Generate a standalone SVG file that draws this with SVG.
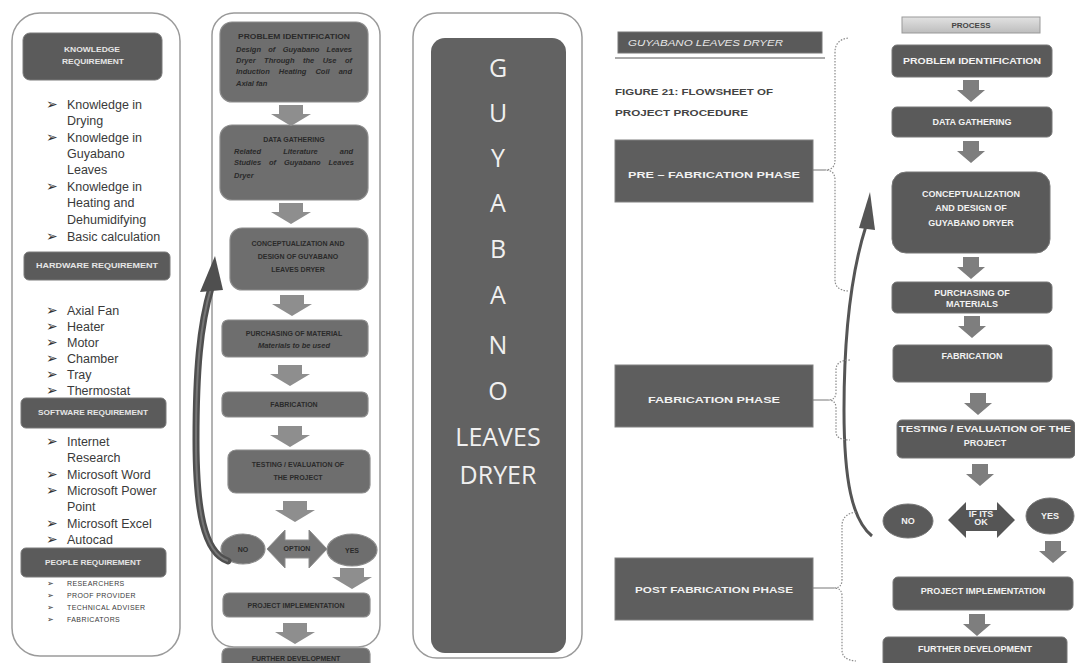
<svg xmlns="http://www.w3.org/2000/svg" width="1075" height="663" viewBox="0 0 1075 663">
<style>
.panel{fill:#fff;stroke:#9a9a9a;stroke-width:1.5}
.hdr{fill:#5b5b5b;stroke:#7a7a7a;stroke-width:1}
.mbox{fill:#6e6e6e;stroke:#8c8c8c;stroke-width:1.2}
.rbox{fill:#5a5a5a;stroke:#777;stroke-width:1}
.phase{fill:#5e5e5e;stroke:#808080;stroke-width:1}
.marr{fill:#8e8e8e}
.rarr{fill:#7e7e7e}
.hdrt{font-family:"Liberation Sans",Arial,sans-serif;font-size:7px;font-weight:bold;fill:#e6e6e6;text-anchor:middle}
.li{font-family:"Liberation Sans",Arial,sans-serif;font-size:12.5px;fill:#3a3a3a}
.bul{font-family:"DejaVu Sans",sans-serif;font-size:14px;fill:#333}
.bs{font-family:"DejaVu Sans",sans-serif;font-size:8px;fill:#333}
.sm{font-family:"Liberation Sans",Arial,sans-serif;font-size:7px;fill:#3a3a3a;letter-spacing:0.4px}
.mt{font-family:"Liberation Sans",Arial,sans-serif;font-size:7px;font-weight:bold;fill:#2a2a2a;text-anchor:middle}
.mi{font-family:"Liberation Sans",Arial,sans-serif;font-size:7.5px;font-style:italic;font-weight:bold;fill:#2a2a2a}
.big{font-family:"Open Sans","Noto Sans",sans-serif;font-size:25px;fill:#f0f0f0;text-anchor:middle}
.rt{font-family:"Liberation Sans",Arial,sans-serif;font-size:9px;font-weight:bold;fill:#f2f2f2;text-anchor:middle}
.cap{font-family:"Liberation Sans",Arial,sans-serif;font-size:8.5px;font-weight:bold;fill:#444}
.brk{fill:none;stroke:#8a8a8a;stroke-width:1.2;stroke-dasharray:1.5,1.5}
.lnk{fill:none;stroke:#777;stroke-width:1}
</style>
<defs>
<path id="da" d="M-12,0 H12 V9 H20 L0,21 L-20,9 H-12 Z"/>
<path id="ra" d="M-8,0 H8 V10 H14 L0,22 L-14,10 H-8 Z"/>
<linearGradient id="pg" x1="0" y1="0" x2="0" y2="1"><stop offset="0" stop-color="#e2e2e2"/><stop offset="1" stop-color="#bdbdbd"/></linearGradient>
</defs>

<!-- LEFT PANEL -->
<g id="left-panel">
<rect class="panel" x="12" y="13" width="168" height="643" rx="28"/>
</g>
<g id="knowledge-req">
<rect class="hdr" x="23" y="33" width="139" height="47" rx="7"/>
<text class="hdrt" x="92" y="52" textLength="56" lengthAdjust="spacingAndGlyphs">KNOWLEDGE</text>
<text class="hdrt" x="93" y="64" textLength="62" lengthAdjust="spacingAndGlyphs">REQUIREMENT</text>
<text class="bul" x="46" y="109">➢</text><text class="li" x="67" y="109">Knowledge in</text>
<text class="li" x="67" y="125">Drying</text>
<text class="bul" x="46" y="142">➢</text><text class="li" x="67" y="142">Knowledge in</text>
<text class="li" x="67" y="158">Guyabano</text>
<text class="li" x="67" y="174">Leaves</text>
<text class="bul" x="46" y="191">➢</text><text class="li" x="67" y="191">Knowledge in</text>
<text class="li" x="67" y="207">Heating and</text>
<text class="li" x="67" y="224">Dehumidifying</text>
<text class="bul" x="46" y="241">➢</text><text class="li" x="67" y="241">Basic calculation</text>
</g>
<g id="hardware-req">
<rect class="hdr" x="24" y="252" width="146" height="28" rx="5"/>
<text class="hdrt" x="97" y="268" textLength="122" lengthAdjust="spacingAndGlyphs">HARDWARE REQUIREMENT</text>
<text class="bul" x="46" y="315">➢</text><text class="li" x="67" y="315">Axial Fan</text>
<text class="bul" x="46" y="331">➢</text><text class="li" x="67" y="331">Heater</text>
<text class="bul" x="46" y="347">➢</text><text class="li" x="67" y="347">Motor</text>
<text class="bul" x="46" y="363">➢</text><text class="li" x="67" y="363">Chamber</text>
<text class="bul" x="46" y="379">➢</text><text class="li" x="67" y="379">Tray</text>
<text class="bul" x="46" y="395">➢</text><text class="li" x="67" y="395">Thermostat</text>
</g>
<g id="software-req">
<rect class="hdr" x="21" y="398" width="145" height="30" rx="5"/>
<text class="hdrt" x="93" y="415" textLength="110" lengthAdjust="spacingAndGlyphs">SOFTWARE REQUIREMENT</text>
<text class="bul" x="46" y="446">➢</text><text class="li" x="67" y="446">Internet</text>
<text class="li" x="67" y="462">Research</text>
<text class="bul" x="46" y="479">➢</text><text class="li" x="67" y="479">Microsoft  Word</text>
<text class="bul" x="46" y="495">➢</text><text class="li" x="67" y="495">Microsoft Power</text>
<text class="li" x="67" y="511">Point</text>
<text class="bul" x="46" y="528">➢</text><text class="li" x="67" y="528">Microsoft Excel</text>
<text class="bul" x="46" y="544">➢</text><text class="li" x="67" y="544">Autocad</text>
</g>
<g id="people-req">
<rect class="hdr" x="21" y="548" width="145" height="29" rx="5"/>
<text class="hdrt" x="93" y="565" textLength="96" lengthAdjust="spacingAndGlyphs">PEOPLE REQUIREMENT</text>
<text class="bs" x="47" y="586">➢</text><text class="sm" x="67" y="586">RESEARCHERS</text>
<text class="bs" x="47" y="598">➢</text><text class="sm" x="67" y="598">PROOF PROVIDER</text>
<text class="bs" x="47" y="610">➢</text><text class="sm" x="67" y="610">TECHNICAL ADVISER</text>
<text class="bs" x="47" y="622">➢</text><text class="sm" x="67" y="622">FABRICATORS</text>
</g>

<!-- MIDDLE PANEL -->
<g id="middle-panel">
<rect class="panel" x="212" y="13" width="168" height="634" rx="22"/>
</g>
<g id="m-problem">
<rect class="mbox" x="220" y="22" width="148" height="80" rx="12"/>
<text class="mt" x="294" y="39" textLength="112" lengthAdjust="spacingAndGlyphs">PROBLEM IDENTIFICATION</text>
<text class="mi" x="236" y="52" word-spacing="5.2">Design of Guyabano Leaves</text>
<text class="mi" x="236" y="63" word-spacing="6.4">Dryer Through the Use of</text>
<text class="mi" x="236" y="74" word-spacing="7">Induction Heating Coil and</text>
<text class="mi" x="236" y="86">Axial fan</text>
</g>
<g id="m-data">
<rect class="mbox" x="220" y="125" width="148" height="75" rx="12"/>
<text class="mt" x="294" y="142">DATA GATHERING</text>
<text class="mi" x="234" y="154" word-spacing="20">Related Literature and</text>
<text class="mi" x="234" y="165" word-spacing="5.8">Studies of Guyabano Leaves</text>
<text class="mi" x="234" y="178">Dryer</text>
</g>
<g id="m-concept">
<rect class="mbox" x="230" y="228" width="138" height="62" rx="12"/>
<text class="mt" x="298" y="246">CONCEPTUALIZATION AND</text>
<text class="mt" x="298" y="259">DESIGN OF GUYABANO</text>
<text class="mt" x="298" y="272">LEAVES DRYER</text>
</g>
<g id="m-purchase">
<rect class="mbox" x="222" y="320" width="146" height="37" rx="6"/>
<text class="mt" x="294" y="336">PURCHASING OF MATERIAL</text>
<text class="mi" x="294" y="348" text-anchor="middle" fill="#f0f0f0">Materials to be used</text>
</g>
<g id="m-fabrication">
<rect class="mbox" x="222" y="392" width="146" height="25" rx="6"/>
<text class="mt" x="294" y="407">FABRICATION</text>
</g>
<g id="m-testing">
<rect class="mbox" x="228" y="450" width="142" height="43" rx="8"/>
<text class="mt" x="298" y="467">TESTING / EVALUATION OF</text>
<text class="mt" x="298" y="480">THE PROJECT</text>
</g>
<g id="m-no">
<ellipse class="mbox" cx="243" cy="549" rx="22" ry="15"/>
<text class="mt" x="243" y="552">NO</text>
</g>
<g id="m-option">
<path d="M267,549 L285,530 V540 H309 V530 L327,549 L309,568 V558 H285 V568 Z" fill="#777" stroke="#8e8e8e"/>
<text class="mt" x="297" y="551" font-size="6">OPTION</text>
</g>
<g id="m-yes">
<ellipse class="mbox" cx="352" cy="550" rx="25" ry="16"/>
<text class="mt" x="352" y="553" fill="#eee">YES</text>
</g>
<g id="m-implementation">
<rect class="mbox" x="223" y="593" width="147" height="24" rx="6"/>
<text class="mt" x="296" y="608">PROJECT IMPLEMENTATION</text>
</g>
<g id="m-further">
<rect class="mbox" x="222" y="648" width="148" height="22" rx="6"/>
<text class="mt" x="296" y="661">FURTHER DEVELOPMENT</text>
</g>

<!-- GUYABANO PANEL -->
<g id="title-panel">
<rect class="panel" x="413" y="13" width="169" height="645" rx="24"/>
<rect x="431" y="38" width="135" height="615" rx="14" fill="#626262"/>
<text class="big" x="498" y="77">G</text>
<text class="big" x="498" y="122">U</text>
<text class="big" x="498" y="167">Y</text>
<text class="big" x="498" y="212">A</text>
<text class="big" x="498" y="258">B</text>
<text class="big" x="498" y="304">A</text>
<text class="big" x="498" y="354">N</text>
<text class="big" x="498" y="400">O</text>
<text class="big" x="498" y="446">LEAVES</text>
<text class="big" x="498" y="484">DRYER</text>
</g>

<!-- RIGHT: PHASES -->
<g id="r-title">
<rect class="rbox" x="618" y="32" width="204" height="21"/>
<text x="628" y="46" font-family="Liberation Sans, Arial, sans-serif" font-size="9.5" font-style="italic" fill="#e8e8e8" textLength="155" lengthAdjust="spacingAndGlyphs">GUYABANO LEAVES DRYER</text>
<line x1="615" y1="58" x2="825" y2="58" stroke="#aaa" stroke-width="2"/>
</g>
<g id="r-caption">
<text class="cap" x="615" y="95" textLength="158" lengthAdjust="spacingAndGlyphs">FIGURE 21: FLOWSHEET OF</text>
<text class="cap" x="615" y="116" textLength="133" lengthAdjust="spacingAndGlyphs">PROJECT PROCEDURE</text>
</g>
<g id="pre-fab">
<rect class="phase" x="615" y="140" width="198" height="62"/>
<text class="rt" x="714" y="178" textLength="172" lengthAdjust="spacingAndGlyphs">PRE – FABRICATION PHASE</text>
</g>
<g id="fab-phase">
<rect class="phase" x="615" y="365" width="198" height="62"/>
<text class="rt" x="714" y="403" textLength="132" lengthAdjust="spacingAndGlyphs">FABRICATION PHASE</text>
</g>
<g id="post-fab">
<rect class="phase" x="615" y="558" width="198" height="62"/>
<text class="rt" x="714" y="593" textLength="158" lengthAdjust="spacingAndGlyphs">POST FABRICATION PHASE</text>
</g>

<!-- RIGHT: PROCESS -->
<g id="r-process-hdr">
<rect x="902" y="17" width="138" height="16" fill="url(#pg)" stroke="#999"/>
<text x="971" y="28" font-family="Liberation Sans, Arial, sans-serif" font-size="8" font-weight="bold" fill="#444" text-anchor="middle">PROCESS</text>
</g>
<g id="r-problem">
<rect class="rbox" x="892" y="45" width="160" height="32" rx="5"/>
<text class="rt" x="972" y="64" textLength="138" lengthAdjust="spacingAndGlyphs">PROBLEM IDENTIFICATION</text>
</g>
<g id="r-data">
<rect class="rbox" x="892" y="107" width="160" height="30" rx="5"/>
<text class="rt" x="972" y="125">DATA GATHERING</text>
</g>
<g id="r-concept">
<rect class="rbox" x="892" y="172" width="158" height="81" rx="14"/>
<text class="rt" x="971" y="197" font-size="9.5">CONCEPTUALIZATION</text>
<text class="rt" x="971" y="211" font-size="9.5">AND DESIGN OF</text>
<text class="rt" x="971" y="226" font-size="9.5">GUYABANO DRYER</text>
</g>
<g id="r-purchase">
<rect class="rbox" x="892" y="282" width="160" height="31" rx="5"/>
<text class="rt" x="972" y="296">PURCHASING OF</text>
<text class="rt" x="972" y="307">MATERIALS</text>
</g>
<g id="r-fabrication">
<rect class="rbox" x="893" y="345" width="159" height="37" rx="5"/>
<text class="rt" x="972" y="359">FABRICATION</text>
</g>
<g id="r-testing">
<rect class="rbox" x="897" y="420" width="178" height="38" rx="5"/>
<text class="rt" x="985" y="432" textLength="172" lengthAdjust="spacingAndGlyphs">TESTING / EVALUATION OF THE</text>
<text class="rt" x="985" y="446">PROJECT</text>
</g>
<g id="r-no">
<ellipse class="rbox" cx="908" cy="521" rx="25" ry="17"/>
<text class="rt" x="908" y="524" font-size="6">NO</text>
</g>
<g id="r-option">
<path d="M948,520 L966,502 V510 H997 V502 L1015,520 L997,538 V531 H966 V538 Z" fill="#555"/>
<text class="rt" x="981" y="517" font-size="5">IF ITS</text>
<text class="rt" x="981" y="525" font-size="5">OK</text>
</g>
<g id="r-yes">
<ellipse class="rbox" cx="1050" cy="516" rx="24" ry="18"/>
<text class="rt" x="1050" y="519" font-size="6">YES</text>
</g>
<g id="r-implementation">
<rect class="rbox" x="893" y="577" width="180" height="33" rx="5"/>
<text class="rt" x="983" y="594" font-size="10">PROJECT IMPLEMENTATION</text>
</g>
<g id="r-further">
<rect class="rbox" x="883" y="637" width="184" height="30" rx="5"/>
<text class="rt" x="975" y="652" font-size="10">FURTHER DEVELOPMENT</text>
</g>

<!-- CONNECTORS -->
<g id="connectors">
<use href="#da" class="marr" x="291" y="105"/>
<use href="#da" class="marr" x="291" y="203"/>
<use href="#da" class="marr" x="292" y="295"/>
<use href="#da" class="marr" x="290" y="365"/>
<use href="#da" class="marr" x="290" y="426"/>
<use href="#da" class="marr" x="295" y="501"/>
<use href="#da" class="marr" x="352" y="568"/>
<use href="#da" class="marr" x="295" y="623"/>

<use href="#ra" class="rarr" x="971" y="80"/>
<use href="#ra" class="rarr" x="971" y="141"/>
<use href="#ra" class="rarr" x="971" y="257"/>
<use href="#ra" class="rarr" x="972" y="316"/>
<use href="#ra" class="rarr" x="978" y="393"/>
<use href="#ra" class="rarr" x="980" y="464"/>
<use href="#ra" class="rarr" x="1053" y="541"/>
<use href="#ra" class="rarr" x="977" y="614"/>

<!-- middle curved loop arrow -->
<path d="M228,561 C204,553 196,510 196,440 C196,370 200,325 211,288" fill="none" stroke="#4f4f4f" stroke-width="7" stroke-linecap="round"/>
<path d="M228,561 C204,553 196,510 196,440 C196,370 200,325 211,288" fill="none" stroke="#777" stroke-width="2"/>
<polygon points="215,256 200,292 223,290" fill="#4f4f4f"/>

<!-- right curved loop arrow -->
<path d="M872,536 C852,520 844,480 844,410 C844,330 852,270 866,226" fill="none" stroke="#555" stroke-width="3"/>
<polygon points="870,192 859,228 875,230" fill="#555"/>

<!-- phase brackets -->
<path class="brk" d="M848,38 Q835,40 835,52 V160 Q835,170 825,170 Q835,170 835,180 V280 Q835,290 848,291"/>
<line class="lnk" x1="813" y1="170" x2="825" y2="170"/>
<path class="brk" d="M850,360 Q836,360 836,370 V392 Q836,400 828,400 Q836,400 836,408 V432 Q836,440 850,440"/>
<line class="lnk" x1="813" y1="400" x2="828" y2="400"/>
<path class="brk" d="M856,512 Q842,514 842,526 V580 Q842,588 834,588 Q842,588 842,596 V650 Q842,660 856,661"/>
<line class="lnk" x1="813" y1="588" x2="834" y2="588"/>
</g>
</svg>
